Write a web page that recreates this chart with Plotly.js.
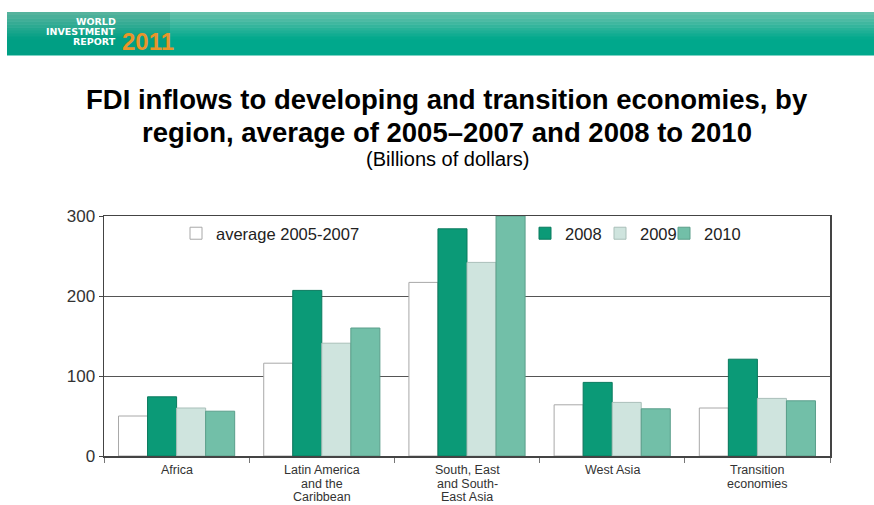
<!DOCTYPE html>
<html>
<head>
<meta charset="utf-8">
<script src="https://cdn.plot.ly/plotly-3.0.1.min.js"></script>
<style>html,body{margin:0;padding:0;background:#fff;}#chart{width:874px;height:505px;}</style>
</head>
<body>
<div id="chart"></div>
<script>
const regions = ["Africa", "Latin America<br>and the<br>Caribbean", "South, East<br>and South-<br>East Asia", "West Asia", "Transition<br>economies"];
const avg0507 = [50, 116, 217, 64, 60];
const y2008 = [74, 207, 284, 92, 121];
const y2009 = [60, 141, 242, 67, 72];
const y2010 = [56, 160, 300, 59, 69];
const seriesNames = ["average 2005-2007", "2008", "2009", "2010"];
const yTicks = [0, 100, 200, 300];

const W = 874, H = 505;
const M = {l: 104, r: 44, t: 216, b: 49};
const PW = W - M.l - M.r, PH = H - M.t - M.b;
const px = x => (x - M.l) / PW;
const py = y => (H - M.b - y) / PH;

const fills = ["#ffffff", "#0b9a77", "#cfe4de", "#72bfa8"];
const edges = ["#a8a8a8", "#0a7a5e", "#a9bfb9", "#5a9e8a"];
const vals = [avg0507, y2008, y2009, y2010];
const legendIds = ["legend", "legend2", "legend3", "legend4"];

const data = vals.map((v, i) => ({
  type: "bar",
  x: regions,
  y: v,
  name: seriesNames[i],
  legend: legendIds[i],
  marker: {color: fills[i], line: {color: edges[i], width: 1}},
  hoverinfo: "none"
}));

const shapes = [];
const bandTop = 12, bandBot = 55, nS = 14;
const c0 = [100, 192, 170], c1 = [0, 168, 140];
for (let k = 0; k < nS; k++) {
  const t = Math.min(1, k / (nS * 0.6));
  const c = c0.map((a, j) => Math.round(a + (c1[j] - a) * t));
  const y0 = bandTop + (bandBot - bandTop) * k / nS;
  const y1 = bandTop + (bandBot - bandTop) * (k + 1) / nS + 0.5;
  shapes.push({type: "rect", xref: "paper", yref: "paper", x0: px(7), x1: px(874), y0: py(y1), y1: py(y0),
    line: {width: 0}, fillcolor: `rgb(${c[0]},${c[1]},${c[2]})`, layer: "below"});
}
shapes.push({type: "rect", xref: "paper", yref: "paper", x0: px(7), x1: px(170), y0: py(bandBot), y1: py(bandTop),
  line: {width: 0}, fillcolor: "rgba(0,110,90,0.15)", layer: "below"});

const FD = "DejaVu Sans, Liberation Sans, Arial, sans-serif";
const FS = "Liberation Sans, Arial, sans-serif";
const annotations = [
  {text: "<b>WORLD</b>", x: px(118), y: py(21), xanchor: "right", yanchor: "middle", font: {family: FD, size: 9.5, color: "#fff"}},
  {text: "<b>INVESTMENT</b>", x: px(118), y: py(31.5), xanchor: "right", yanchor: "middle", font: {family: FD, size: 9.5, color: "#fff"}},
  {text: "<b>REPORT</b>", x: px(118), y: py(42), xanchor: "right", yanchor: "middle", font: {family: FD, size: 9.5, color: "#fff"}},
  {text: "<b>2011</b>", x: px(120), y: py(41.5), xanchor: "left", yanchor: "middle", font: {family: FS, size: 24, color: "#e8952a"}},
  {text: "<b>FDI inflows to developing and transition economies, by</b>", x: px(447), y: py(100), xanchor: "center", yanchor: "middle", font: {family: FS, size: 27.5, color: "#000"}},
  {text: "<b>region, average of 2005–2007 and 2008 to 2010</b>", x: px(447), y: py(133), xanchor: "center", yanchor: "middle", font: {family: FS, size: 27.5, color: "#000"}},
  {text: "(Billions of dollars)", x: px(447), y: py(159), xanchor: "center", yanchor: "middle", font: {family: FS, size: 20, color: "#000"}}
].map(a => Object.assign({xref: "paper", yref: "paper", showarrow: false}, a));

// category labels, one line per annotation for tight line spacing, placed on the category axis
regions.forEach(r => {
  r.split("<br>").forEach((line, j) => {
    annotations.push({text: line, xref: "x", yref: "paper", x: r, y: py(470 + 13.5 * j),
      xanchor: "center", yanchor: "middle", showarrow: false, font: {family: FS, size: 12.5, color: "#333"}});
  });
});

const legFont = {family: FS, size: 16.5, color: "#222"};
const mkLeg = x => ({x: px(x), y: py(216), xanchor: "left", yanchor: "top", orientation: "h",
  bgcolor: "rgba(0,0,0,0)", font: legFont, itemwidth: 30});

const layout = {
  width: W, height: H,
  margin: M,
  paper_bgcolor: "#fff", plot_bgcolor: "#fff",
  barmode: "group", bargap: 0.2, bargroupgap: 0,
  showlegend: true,
  legend: mkLeg(176),
  legend2: mkLeg(525),
  legend3: mkLeg(600),
  legend4: mkLeg(664),
  xaxis: {type: "category", showline: true, linecolor: "#444", linewidth: 1.5, mirror: true,
    ticks: "outside", tickson: "boundaries", ticklen: 5, tickcolor: "#777",
    showticklabels: false, showgrid: false},
  yaxis: {range: [0, 300], tickvals: yTicks, showline: true, linecolor: "#444", linewidth: 1.5, mirror: true,
    ticks: "outside", ticklen: 4, tickcolor: "#444",
    showgrid: true, gridcolor: "#555", gridwidth: 1, zeroline: false,
    tickfont: {family: FS, size: 17, color: "#333"}},
  shapes: shapes,
  annotations: annotations,
  font: {family: FS}
};

Plotly.newPlot("chart", data, layout, {staticPlot: true, displayModeBar: false});
</script>
</body>
</html>
